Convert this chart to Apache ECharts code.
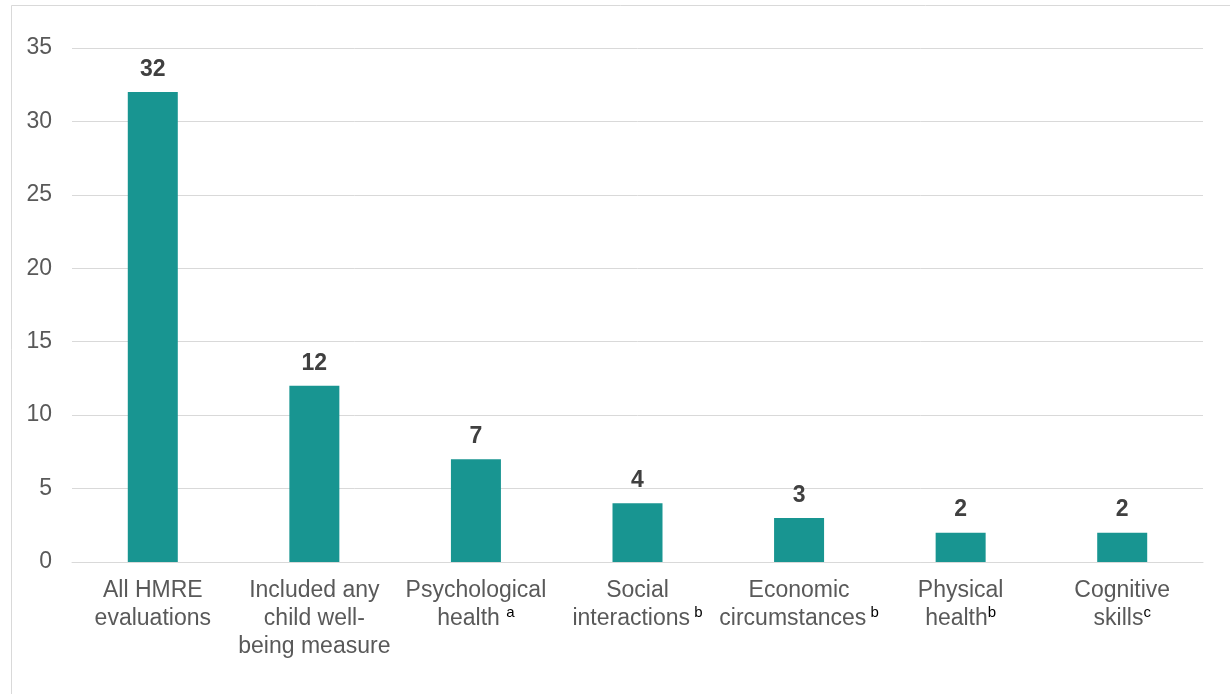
<!DOCTYPE html>
<html>
<head>
<meta charset="utf-8">
<script src="https://cdn.jsdelivr.net/npm/echarts@6/dist/echarts.min.js"></script>
<style>
html,body{margin:0;padding:0;background:#fff;}
#c{width:1230px;height:694px;}
</style>
</head>
<body>
<div id="c"></div>
<script>
const categories = [
  "All HMRE\nevaluations",
  "Included any\nchild well-\nbeing measure",
  "Psychological\nhealth {sup|a}",
  "Social\ninteractions{sup| b}",
  "Economic\ncircumstances{sup| b}",
  "Physical\nhealth{sup|b}",
  "Cognitive\nskills{sup|c}"
];
const values = [32, 12, 7, 4, 3, 2, 2];
const yTicks = { min: 0, max: 35, interval: 5 };

const FONT = 'Liberation Sans, Arial, sans-serif';
const chart = echarts.init(document.getElementById('c'), null, { renderer: 'canvas' });
chart.setOption({
  animation: false,
  backgroundColor: '#fff',
  textStyle: { fontFamily: FONT },
  graphic: [
    { type: 'line', shape: { x1: 11.5, y1: 5.5, x2: 1230, y2: 5.5 }, style: { stroke: '#d9d9d9', lineWidth: 1 } },
    { type: 'line', shape: { x1: 11.5, y1: 5.5, x2: 11.5, y2: 694 }, style: { stroke: '#d9d9d9', lineWidth: 1 } }
  ],
  grid: { left: 72, right: 27, top: 48, bottom: 132, containLabel: false },
  xAxis: {
    type: 'category',
    data: categories,
    axisLine: { show: true, lineStyle: { color: '#d9d9d9', width: 1 } },
    axisTick: { show: false },
    axisLabel: {
      interval: 0,
      color: '#595959',
      fontSize: 23,
      lineHeight: 28,
      margin: 15,
      fontFamily: FONT,
      rich: {
        sup: { fontSize: 15, color: '#000', verticalAlign: 'top', lineHeight: 10, fontFamily: FONT }
      }
    }
  },
  yAxis: {
    type: 'value',
    min: yTicks.min,
    max: yTicks.max,
    interval: yTicks.interval,
    axisLine: { show: false },
    axisTick: { show: false },
    splitLine: { lineStyle: { color: '#d9d9d9', width: 1 } },
    axisLabel: { color: '#595959', fontSize: 23, margin: 20, fontFamily: FONT }
  },
  series: [{
    type: 'bar',
    data: values,
    barWidth: 50,
    itemStyle: { color: '#189591' },
    label: {
      show: true,
      position: 'top',
      distance: 11,
      color: '#404040',
      fontSize: 23,
      fontWeight: 'bold',
      fontFamily: FONT
    }
  }]
});
</script>
</body>
</html>
